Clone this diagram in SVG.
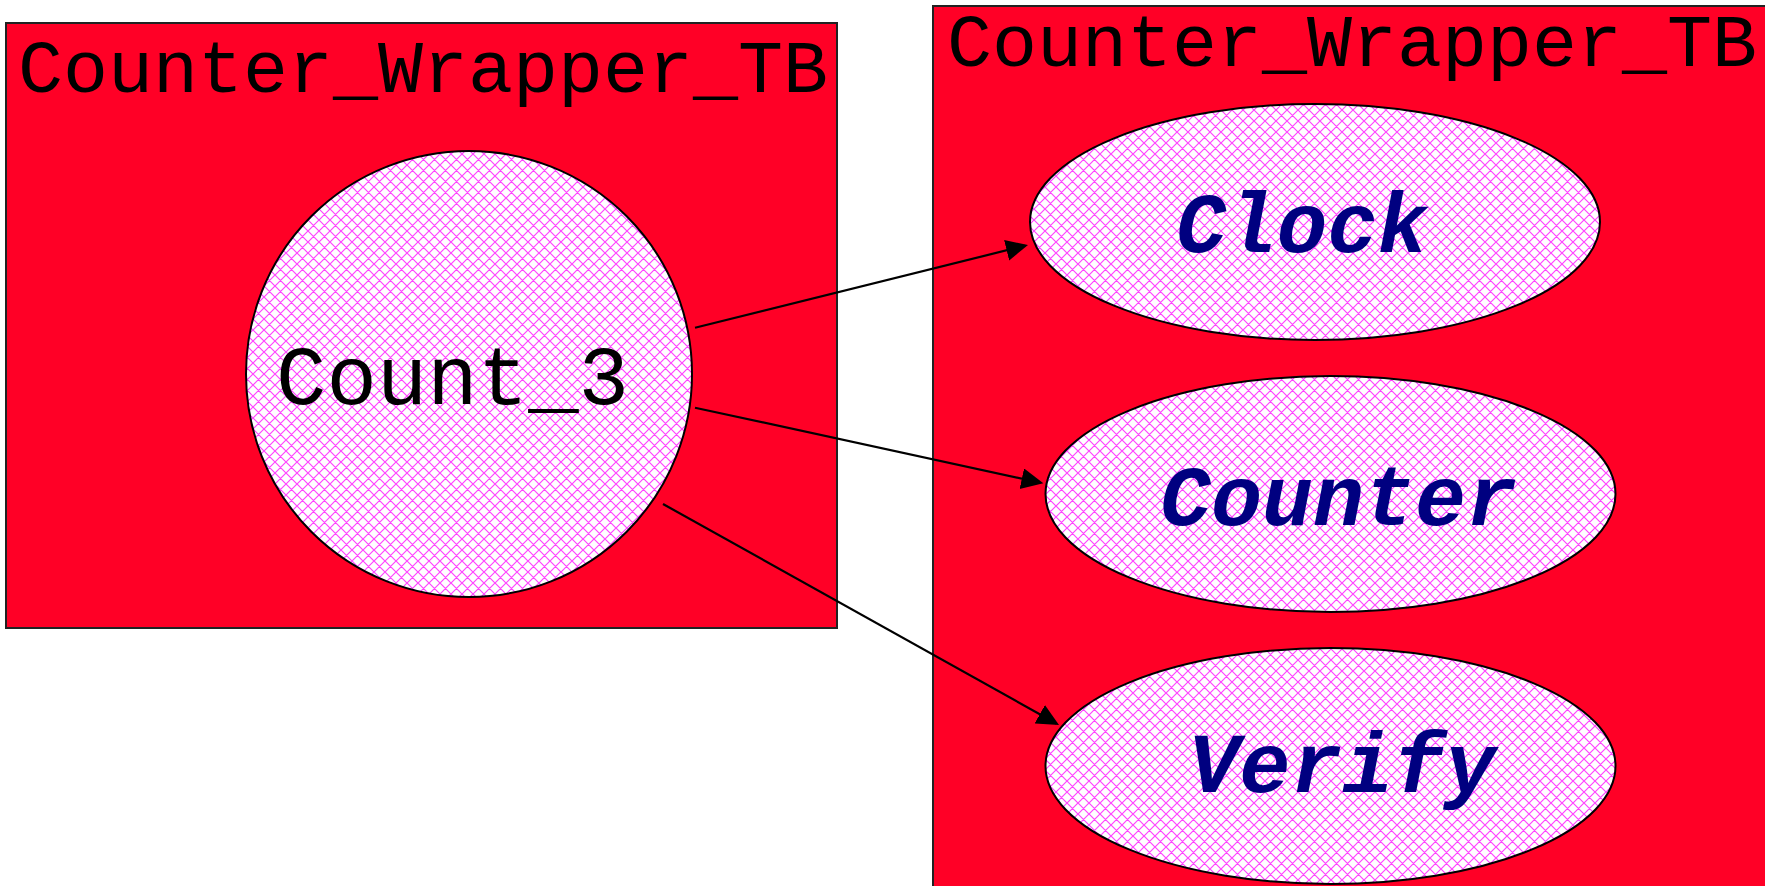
<svg xmlns="http://www.w3.org/2000/svg" width="1765" height="886" viewBox="0 0 1765 886">
<defs>
<pattern id="hatch" patternUnits="userSpaceOnUse" width="11" height="11">
<rect width="11" height="11" fill="#ffffff"/>
<path d="M0,0 L11,11 M11,0 L0,11 M-1,10 L1,12 M10,-1 L12,1 M-1,1 L1,-1 M10,12 L12,10" stroke="#ff44ff" stroke-width="1.2" fill="none"/>
</pattern>
<marker id="arrow" markerUnits="userSpaceOnUse" markerWidth="24" markerHeight="22" refX="19" refY="10.5" orient="auto">
<path d="M0,0 L22,10.5 L0,21 z" fill="#000000"/>
</marker>
<style>
.cont { fill: #ff0026; stroke: #222222; stroke-width: 2; }
.title { font-family: "Liberation Mono", "Courier New", monospace; font-size: 75px; fill: #000000; }
.node { fill: url(#hatch); stroke: #000000; stroke-width: 2; }
.plain { font-family: "Liberation Mono", "Courier New", monospace; font-size: 84px; fill: #000000; }
.bi { font-family: "Liberation Mono", "Courier New", monospace; font-size: 85px; font-weight: bold; font-style: italic; fill: #000080; }
.edge { stroke: #000000; stroke-width: 2.2; fill: none; marker-end: url(#arrow); }
</style>
</defs>
<g id="container-left">
<rect class="cont" x="6" y="23" width="831" height="605"/>
<text class="title" x="18" y="92" textLength="810" lengthAdjust="spacingAndGlyphs">Counter_Wrapper_TB</text>
</g>
<g id="container-right">
<rect class="cont" x="933" y="6" width="900" height="950"/>
<text class="title" x="947" y="66" textLength="810" lengthAdjust="spacingAndGlyphs">Counter_Wrapper_TB</text>
</g>
<g id="node-count3">
<circle class="node" cx="469" cy="374" r="223"/>
<text class="plain" x="276" y="404" textLength="353" lengthAdjust="spacingAndGlyphs">Count_3</text>
</g>
<g id="node-clock">
<ellipse class="node" cx="1315" cy="222" rx="285" ry="118"/>
<text class="bi" x="1176" y="252" textLength="252" lengthAdjust="spacingAndGlyphs">Clock</text>
</g>
<g id="node-counter">
<ellipse class="node" cx="1330.5" cy="494" rx="285" ry="118"/>
<text class="bi" x="1160" y="525" textLength="357" lengthAdjust="spacingAndGlyphs">Counter</text>
</g>
<g id="node-verify">
<ellipse class="node" cx="1330.5" cy="766" rx="285" ry="118"/>
<text class="bi" x="1188" y="792" textLength="308" lengthAdjust="spacingAndGlyphs">Verify</text>
</g>
<g id="connectors">
<line class="edge" x1="695" y1="327.7" x2="1025.1" y2="245.7"/>
<line class="edge" x1="695" y1="407.7" x2="1040.4" y2="482.7"/>
<line class="edge" x1="663" y1="504" x2="1056.4" y2="723.5"/>
</g>
</svg>
